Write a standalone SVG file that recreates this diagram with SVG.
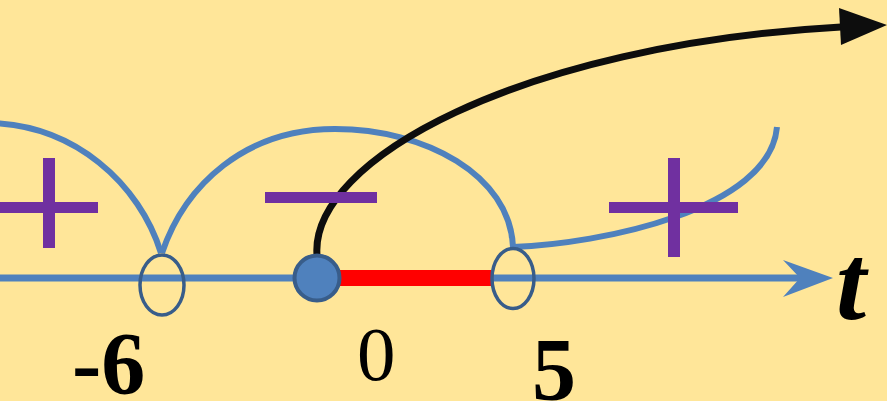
<svg xmlns="http://www.w3.org/2000/svg" width="887" height="401" viewBox="0 0 887 401">
<style>
.arc{fill:none;stroke:#4F81BD;stroke-width:6}
.ring{fill:none;stroke:#385D8A;stroke-width:3.5}
.sign{fill:#7030A0}
.lbl{font-family:"Liberation Serif","Times New Roman",serif;fill:#000}
</style>
<rect width="887" height="401" fill="#FFE699"/>
<g id="connectors">
<path class="arc" d="M-15,123 C75,123 140,185 161,253"/>
<path class="arc" d="M162,253 C185,185 245,129 335,129 C425,129 510,175 513,247"/>
<path class="arc" d="M513,247 C600,244 770,210 777,127"/>
<line x1="0" y1="278" x2="800" y2="278" stroke="#4F81BD" stroke-width="7"/>
<polygon points="783,260 833,278 783,297 800,278" fill="#4F81BD"/>
<line x1="340" y1="278" x2="491" y2="278" stroke="#FF0000" stroke-width="16"/>
<path d="M317,255 C310,160 520,45 841,27" fill="none" stroke="#0D0D0D" stroke-width="7"/>
<polygon points="839,8 887,25 841,45" fill="#0D0D0D"/>
</g>
<g id="node-minus6"><ellipse class="ring" cx="162" cy="285" rx="22" ry="30"/></g>
<g id="node-5"><ellipse class="ring" cx="513" cy="278.5" rx="21" ry="30"/></g>
<g id="node-0"><circle cx="317" cy="278" r="22.5" fill="#4F81BD" stroke="#385D8A" stroke-width="4"/></g>
<g id="signs">
<rect class="sign" x="0" y="202" width="98" height="11"/>
<rect class="sign" x="43" y="158" width="12" height="90"/>
<rect class="sign" x="265" y="192" width="112" height="11"/>
<rect class="sign" x="609" y="202" width="129" height="11"/>
<rect class="sign" x="668" y="158" width="12" height="99"/>
</g>
<g id="labels">
<text class="lbl" x="72" y="393" font-size="88" font-weight="bold">-6</text>
<text class="lbl" x="357" y="380" font-size="77">0</text>
<text class="lbl" x="532" y="399" font-size="88" font-weight="bold">5</text>
<text class="lbl" x="836" y="319" font-size="108" font-weight="bold" font-style="italic">t</text>
</g>
</svg>
